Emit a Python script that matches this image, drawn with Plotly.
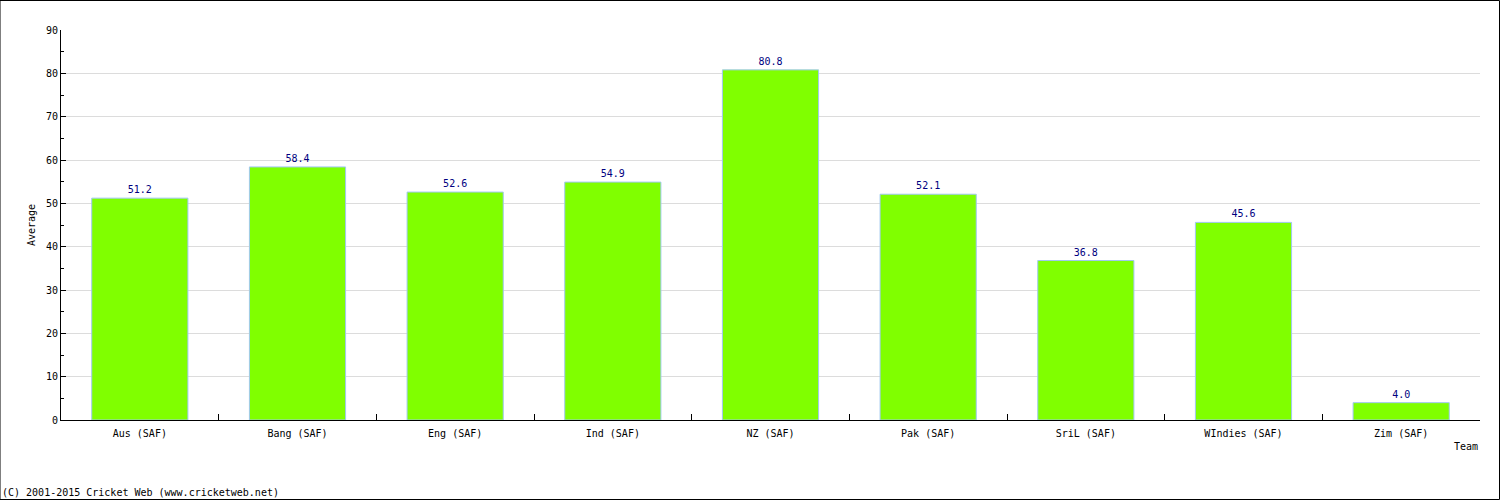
import plotly.graph_objects as go

teams = ["Aus (SAF)", "Bang (SAF)", "Eng (SAF)", "Ind (SAF)", "NZ (SAF)",
         "Pak (SAF)", "SriL (SAF)", "WIndies (SAF)", "Zim (SAF)"]
averages = [51.2, 58.4, 52.6, 54.9, 80.8, 52.1, 36.8, 45.6, 4.0]
labels = [f"{v:.1f}" for v in averages]

FONT = "DejaVu Sans Mono"
FS = 10

fig = go.Figure(go.Bar(
    x=teams, y=averages, width=0.61,
    marker=dict(color="#80ff00", line=dict(color="#a0c8f0", width=1)),
    text=labels, textposition="outside",
    textfont=dict(family=FONT, size=FS, color="#000080"),
    cliponaxis=False,
))

fig.update_layout(
    width=1500, height=500,
    margin=dict(l=61, r=20, t=30, b=80),
    paper_bgcolor="white", plot_bgcolor="white",
    font=dict(family=FONT, size=FS, color="black"),
    showlegend=False,
    bargap=0.39,
    xaxis=dict(
        showline=True, linecolor="black", linewidth=1,
        ticks="inside", tickson="boundaries", ticklen=6, tickcolor="black",
        showgrid=False, tickfont=dict(family=FONT, size=FS),
        ticklabelstandoff=4,
    ),
    yaxis=dict(
        range=[0, 90], dtick=10,
        showline=True, linecolor="black", linewidth=1,
        ticks="inside", ticklen=5, tickcolor="black",
        showgrid=True, gridcolor="#dcdcdc", gridwidth=1,
        zeroline=False,
        minor=dict(dtick=5, ticks="inside", ticklen=3, tickcolor="black", showgrid=False),
        tickfont=dict(family=FONT, size=FS),
        title=dict(text="Average", font=dict(family=FONT, size=FS), standoff=8),
    ),
    shapes=[dict(type="rect", xref="paper", yref="paper",
                 x0=-61/1419, x1=1+19.5/1419, y0=-79.5/390, y1=1+29.5/390,
                 line=dict(color="black", width=1))],
    annotations=[
        dict(text="Team", xref="paper", yref="paper", x=1, y=-26/390,
             xanchor="right", yanchor="middle", showarrow=False,
             font=dict(family=FONT, size=FS)),
        dict(text="(C) 2001-2015 Cricket Web (www.cricketweb.net)",
             xref="paper", yref="paper", x=-61/1419, y=-72/390,
             xanchor="left", yanchor="middle", showarrow=False,
             font=dict(family=FONT, size=FS)),
    ],
)

fig.write_html("out.html")
